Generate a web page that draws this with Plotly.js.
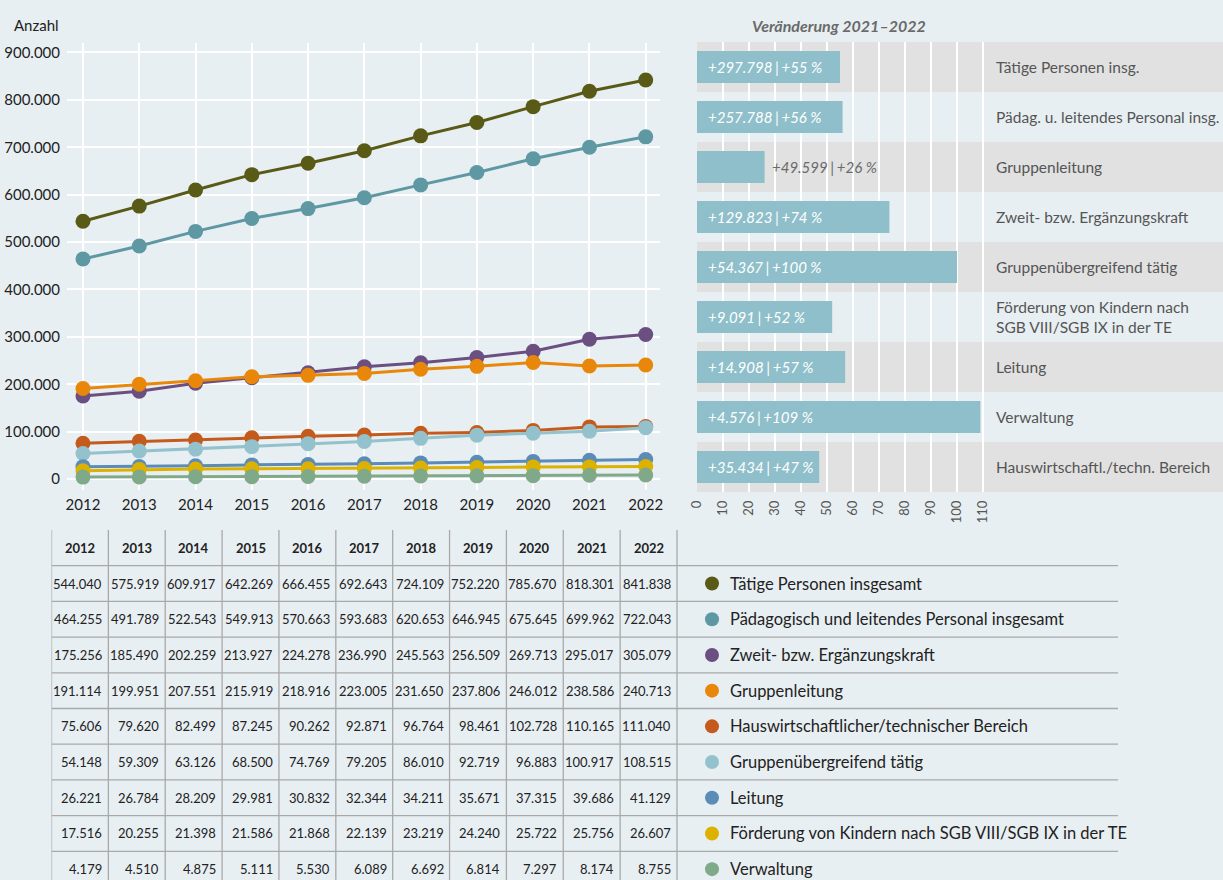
<!DOCTYPE html>
<html><head><meta charset="utf-8">
<script src="https://cdn.plot.ly/plotly-3.0.1.min.js"></script>
<style>html,body{margin:0;padding:0;background:#e8eff2;overflow:hidden}#chart{width:1223px;height:880px}</style>
</head><body><div id="chart"></div>
<script>
// ---------- DATA ----------
const years = [2012, 2013, 2014, 2015, 2016, 2017, 2018, 2019, 2020, 2021, 2022];
const seriesNames = [
  'Tätige Personen insgesamt',
  'Pädagogisch und leitendes Personal insgesamt',
  'Zweit- bzw. Ergänzungskraft',
  'Gruppenleitung',
  'Hauswirtschaftlicher/technischer Bereich',
  'Gruppenübergreifend tätig',
  'Leitung',
  'Förderung von Kindern nach SGB VIII/SGB IX in der TE',
  'Verwaltung'
];
const seriesColors = ['#5a5a17', '#5e98a3', '#6b4f80', '#e8870a', '#c45b1c', '#93c2cd', '#5b8cb8', '#dcb100', '#80a98a'];
const taetigePersonen   = [544040, 575919, 609917, 642269, 666455, 692643, 724109, 752220, 785670, 818301, 841838];
const paedagogisch      = [464255, 491789, 522543, 549913, 570663, 593683, 620653, 646945, 675645, 699962, 722043];
const zweitkraft        = [175256, 185490, 202259, 213927, 224278, 236990, 245563, 256509, 269713, 295017, 305079];
const gruppenleitung    = [191114, 199951, 207551, 215919, 218916, 223005, 231650, 237806, 246012, 238586, 240713];
const hauswirtschaft    = [75606, 79620, 82499, 87245, 90262, 92871, 96764, 98461, 102728, 110165, 111040];
const gruppenuebergreif = [54148, 59309, 63126, 68500, 74769, 79205, 86010, 92719, 96883, 100917, 108515];
const leitung           = [26221, 26784, 28209, 29981, 30832, 32344, 34211, 35671, 37315, 39686, 41129];
const foerderung        = [17516, 20255, 21398, 21586, 21868, 22139, 23219, 24240, 25722, 25756, 26607];
const verwaltung        = [4179, 4510, 4875, 5111, 5530, 6089, 6692, 6814, 7297, 8174, 8755];
const seriesValues = [taetigePersonen, paedagogisch, zweitkraft, gruppenleitung, hauswirtschaft,
                      gruppenuebergreif, leitung, foerderung, verwaltung];

const barCategories = [
  'Tätige Personen insg.',
  'Pädag. u. leitendes Personal insg.',
  'Gruppenleitung',
  'Zweit- bzw. Ergänzungskraft',
  'Gruppenübergreifend tätig',
  'Förderung von Kindern nach<br>SGB VIII/SGB IX in der TE',
  'Leitung',
  'Verwaltung',
  'Hauswirtschaftl./techn. Bereich'
];
const barAbsChange = [297798, 257788, 49599, 129823, 54367, 9091, 14908, 4576, 35434];
const barPctChange = [55, 56, 26, 74, 100, 52, 57, 109, 47];
const barTicks = [0, 10, 20, 30, 40, 50, 60, 70, 80, 90, 100, 110];

// ---------- HELPERS ----------
const W = 1223, H = 880;
const FONT = 'Lato, "Source Sans Pro", "Noto Sans", sans-serif';
const px = v => v / W;
const py = v => 1 - v / H;
const fmt = n => String(n).replace(/\B(?=(\d{3})+(?!\d))/g, '.');

const traces = [];
const annotations = [];
const shapes = [];

// ---------- LINE CHART ----------
seriesNames.forEach((name, i) => {
  traces.push({
    type: 'scatter', mode: 'lines+markers', name: name,
    x: years, y: seriesValues[i], xaxis: 'x', yaxis: 'y',
    line: {color: seriesColors[i], width: 3},
    marker: {color: seriesColors[i], size: 15},
    hoverinfo: 'skip'
  });
});

// ---------- BAR CHART ----------
const barAxisMax = 110 * (W - 697) / (983 - 697);
traces.push({
  type: 'bar', orientation: 'h', xaxis: 'x2', yaxis: 'y2',
  y: barCategories, x: barPctChange, width: 0.64,
  marker: {color: '#8fbfca'}, hoverinfo: 'skip', textposition: 'none'
});
barCategories.forEach((c, i) => {
  if (i % 2 === 0) {
    shapes.push({type: 'rect', xref: 'x2', yref: 'y2', x0: 0, x1: barAxisMax,
      y0: i - 0.5, y1: i + 0.5, fillcolor: '#e1e1e1', line: {width: 0}, layer: 'below'});
  }
  const inside = barPctChange[i] >= 35;
  annotations.push({
    xref: 'x2', yref: 'y2', x: inside ? 0 : barPctChange[i], y: i,
    xanchor: 'left', yanchor: 'middle', xshift: inside ? 9 : 5, showarrow: false,
    text: '+' + fmt(barAbsChange[i]) + '\u2009\u200a|\u2009\u200a+' + barPctChange[i] + ' %',
    font: {family: FONT, size: 15, style: 'italic', color: inside ? '#ffffff' : '#6a6a6a'}
  });
  annotations.push({
    xref: 'x2', yref: 'y2', x: 110, y: i, xanchor: 'left', yanchor: 'middle', xshift: 11,
    showarrow: false, align: 'left', text: c,
    font: {family: FONT, size: 15.5, color: '#555555'}
  });
});

// ---------- TABLE ----------
const colW = (677 - 51.5) / 11;
const rowH = 35.7;
const tblRight = (1118 - 51.5) / colW;
const tblBottom = (H - 530) / rowH - 0.5;
years.forEach((yr, c) => {
  annotations.push({xref: 'x3', yref: 'y3', x: c + 0.5, y: 0, showarrow: false,
    xanchor: 'center', yanchor: 'middle', text: '<b>' + yr + '</b>',
    font: {family: FONT, size: 13, color: '#222222'}});
});
seriesNames.forEach((name, r) => {
  seriesValues[r].forEach((v, c) => {
    annotations.push({xref: 'x3', yref: 'y3', x: c + 1, y: r + 1, showarrow: false,
      xanchor: 'right', yanchor: 'middle', xshift: -4, text: fmt(v),
      font: {family: FONT, size: 13, color: '#222222'}});
  });
  annotations.push({xref: 'x3', yref: 'y3', x: (728 - 51.5) / colW, y: r + 1, showarrow: false,
    xanchor: 'left', yanchor: 'middle', text: name,
    font: {family: FONT, size: 16.5, color: '#222222'}});
});
traces.push({
  type: 'scatter', mode: 'markers', xaxis: 'x3', yaxis: 'y3',
  x: seriesNames.map(() => (712 - 51.5) / colW), y: seriesNames.map((n, r) => r + 1),
  marker: {color: seriesColors, size: 14}, hoverinfo: 'skip'
});
for (let c = 0; c <= years.length; c++) {
  shapes.push({type: 'line', xref: 'x3', yref: 'y3', x0: c, x1: c, y0: -0.5, y1: tblBottom,
    line: {color: '#a9a9a9', width: 1.3}});
}
for (let r = 0; r < seriesNames.length; r++) {
  shapes.push({type: 'line', xref: 'x3', yref: 'y3', x0: 0, x1: tblRight, y0: r + 0.5, y1: r + 0.5,
    line: {color: '#a9a9a9', width: 1.3}});
}

// ---------- TITLES ----------
annotations.push({xref: 'paper', yref: 'paper', x: px(61), y: py(25), xanchor: 'right', yanchor: 'middle',
  showarrow: false, text: 'Anzahl', font: {family: FONT, size: 15, color: '#222222'}});
annotations.push({xref: 'paper', yref: 'paper', x: px(839), y: py(25), xanchor: 'center', yanchor: 'middle',
  showarrow: false, text: '<b>Veränderung 2021–2022</b>',
  font: {family: FONT, size: 16, style: 'italic', color: '#6a6a6a'}});

const layout = {
  width: W, height: H, margin: {l: 0, r: 0, t: 0, b: 0},
  paper_bgcolor: '#e8eff2', plot_bgcolor: 'rgba(0,0,0,0)',
  separators: ',.', showlegend: false, font: {family: FONT, color: '#222222'},
  xaxis: {domain: [px(67), px(660)], range: [2011.716, 2022.254], tickvals: years,
    showgrid: true, gridcolor: '#ffffff', gridwidth: 2, zeroline: false, showline: false,
    ticks: '', tickfont: {family: FONT, size: 15, color: '#222222'}, ticklabelstandoff: 4, fixedrange: true},
  yaxis: {domain: [py(490), py(43)], range: [-23000, 920000], dtick: 100000, tickformat: ',d',
    showgrid: true, gridcolor: '#ffffff', gridwidth: 2, zeroline: false, showline: false,
    ticks: '', tickfont: {family: FONT, size: 15, color: '#222222'}, ticklabelstandoff: 6, fixedrange: true},
  xaxis2: {domain: [px(697), 1], range: [0, barAxisMax], anchor: 'y2', tickvals: barTicks,
    showgrid: true, gridcolor: '#ffffff', gridwidth: 1.5, zeroline: false, showline: false,
    ticks: '', tickangle: -90, tickfont: {family: FONT, size: 13, color: '#555555'}, ticklabelstandoff: 5, fixedrange: true},
  yaxis2: {domain: [py(492), py(42)], anchor: 'x2', type: 'category', categoryorder: 'array',
    categoryarray: barCategories, range: [8.5, -0.5], showgrid: false, zeroline: false,
    showticklabels: false, ticks: '', fixedrange: true},
  xaxis3: {domain: [px(51.5), 1], range: [0, (W - 51.5) / colW], anchor: 'y3',
    showgrid: false, zeroline: false, showticklabels: false, ticks: '', showline: false, fixedrange: true},
  yaxis3: {domain: [0, py(530)], range: [tblBottom, -0.5], anchor: 'x3',
    showgrid: false, zeroline: false, showticklabels: false, ticks: '', showline: false, fixedrange: true},
  annotations: annotations, shapes: shapes
};

Plotly.newPlot('chart', traces, layout, {displayModeBar: false, staticPlot: true});
</script></body></html>
